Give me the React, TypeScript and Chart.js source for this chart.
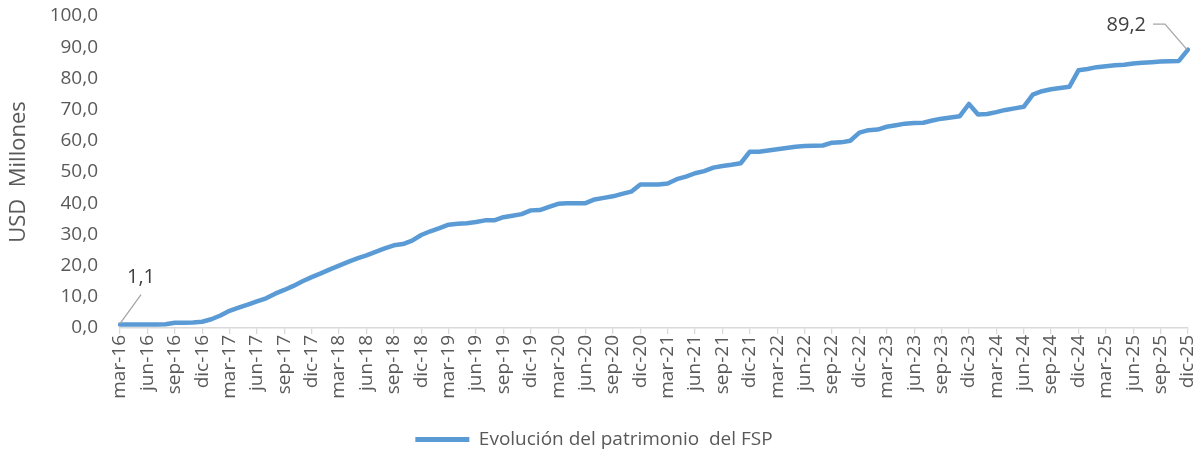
import React, { useEffect, useRef } from "react";
import { Chart, registerables } from "chart.js";

Chart.register(...registerables);

const monthNames = ["ene", "feb", "mar", "abr", "may", "jun", "jul", "ago", "sep", "oct", "nov", "dic"];
const startYear = 2016;
const startMonth = 2; // mar
const endYear = 2025;
const endMonth = 11; // dic

const seriesName = "Evolución del patrimonio  del FSP";
const yTitle = "USD  Millones";

// Monthly values (USD millones), mar-16 .. dic-25
const patrimonio = [
  1.1, 1.1, 1.1, 1.1, 1.1, 1.2, 1.7, 1.7, 1.8, 2.0,
  2.8, 4.0, 5.5, 6.5, 7.5, 8.5, 9.5, 11.0, 12.2, 13.5, 15.0, 16.3,
  17.5, 18.8, 20.0, 21.2, 22.3, 23.3, 24.4, 25.5, 26.5, 26.9, 28.0, 29.8,
  31.0, 32.0, 33.1, 33.4, 33.6, 34.0, 34.5, 34.5, 35.5, 36.0, 36.5, 37.7,
  37.8, 38.8, 39.8, 40.0, 40.0, 40.0, 41.2, 41.7, 42.2, 43.0, 43.7, 46.0,
  46.0, 46.0, 46.3, 47.7, 48.5, 49.6, 50.3, 51.4, 51.9, 52.3, 52.8, 56.5,
  56.5, 56.9, 57.3, 57.7, 58.1, 58.3, 58.4, 58.5, 59.4, 59.5, 60.0, 62.6,
  63.4, 63.6, 64.5, 65.0, 65.5, 65.7, 65.8, 66.5, 67.1, 67.5, 67.9, 71.8,
  68.4, 68.6, 69.2, 69.9, 70.4, 70.9, 74.8, 75.9, 76.5, 76.9, 77.3, 82.6,
  83.0, 83.6, 83.9, 84.2, 84.4, 84.8, 85.0, 85.2, 85.4, 85.5, 85.6, 89.2,
];

const yTicks = [0, 10, 20, 30, 40, 50, 60, 70, 80, 90, 100];

function buildMonthLabels(): string[] {
  const out: string[] = [];
  let y = startYear;
  let m = startMonth;
  while (y < endYear || (y === endYear && m <= endMonth)) {
    out.push(`${monthNames[m]}-${String(y).slice(2)}`);
    m++;
    if (m > 11) {
      m = 0;
      y++;
    }
  }
  return out;
}

const monthLabels = buildMonthLabels();

const fmt = (v: number) => v.toFixed(1).replace(".", ",");

const FONT = "'Open Sans', 'Liberation Sans', sans-serif";
const TEXT = "#595959";

const endLabelsPlugin = {
  id: "endLabels",
  afterDatasetsDraw(chart: any) {
    const meta = chart.getDatasetMeta(0);
    const pts = meta.data;
    if (!pts || !pts.length) return;
    const ctx = chart.ctx;
    const first = pts[0];
    const last = pts[pts.length - 1];
    const data = chart.data.datasets[0].data as number[];
    ctx.save();
    ctx.strokeStyle = "#a6a6a6";
    ctx.lineWidth = 1.3;
    ctx.beginPath();
    ctx.moveTo(first.x, first.y - 1);
    ctx.lineTo(first.x + 21, first.y - 30);
    ctx.stroke();
    ctx.beginPath();
    ctx.moveTo(last.x - 1, last.y);
    ctx.lineTo(last.x - 23, last.y - 25.5);
    ctx.lineTo(last.x - 35, last.y - 25.5);
    ctx.stroke();

    ctx.fillStyle = "#404040";
    ctx.font = `20px ${FONT}`;
    ctx.textBaseline = "middle";
    ctx.textAlign = "center";
    ctx.fillText(fmt(data[0]), first.x + 21, first.y - 47);
    ctx.textAlign = "right";
    ctx.fillText(fmt(data[data.length - 1]), last.x - 42, last.y - 24);
    ctx.restore();
  },
};

export default function App() {
  const canvasRef = useRef<HTMLCanvasElement | null>(null);

  useEffect(() => {
    if (!canvasRef.current) return;
    const chart = new Chart(canvasRef.current, {
      type: "line",
      data: {
        labels: monthLabels,
        datasets: [
          {
            label: seriesName,
            data: patrimonio,
            borderColor: "#5B9BD5",
            backgroundColor: "#5B9BD5",
            borderWidth: 4.5,
            pointRadius: 0,
            tension: 0,
            borderJoinStyle: "round",
            borderCapStyle: "round",
          },
        ],
      },
      options: {
        animation: false,
        responsive: true,
        maintainAspectRatio: false,
        layout: { padding: { top: 16, right: 12, bottom: 0, left: 0 } },
        plugins: {
          tooltip: { enabled: false },
          legend: {
            position: "bottom",
            labels: {
              color: TEXT,
              font: { family: FONT, size: 19 },
              boxWidth: 54,
              boxHeight: 5,
              padding: 10,
              generateLabels: () => [
                {
                  text: seriesName,
                  fillStyle: "#5B9BD5",
                  strokeStyle: "#5B9BD5",
                  lineWidth: 0,
                  hidden: false,
                  datasetIndex: 0,
                  fontColor: TEXT,
                },
              ],
            },
          },
        },
        scales: {
          x: {
            type: "category",
            afterFit: (scale: any) => {
              scale.height = 92;
              scale.paddingLeft = 0;
              scale.paddingRight = 0;
            },
            grid: {
              drawOnChartArea: false,
              drawTicks: true,
              tickLength: 6,
              lineWidth: 1.3,
              color: (c: any) => (c.index % 3 === 0 ? "#d9d9d9" : "rgba(0,0,0,0)"),
            },
            border: { display: true, color: "#d9d9d9", width: 1.5 },
            ticks: {
              autoSkip: false,
              maxRotation: 90,
              minRotation: 90,
              padding: 1,
              color: TEXT,
              font: { family: FONT, size: 19 },
              callback: (_v: any, i: number) => (i % 3 === 0 ? monthLabels[i] : ""),
            },
          },
          y: {
            min: yTicks[0],
            max: yTicks[yTicks.length - 1],
            afterFit: (scale: any) => {
              scale.width = 120;
              scale.paddingTop = 0;
              scale.paddingBottom = 0;
            },
            afterBuildTicks: (scale: any) => {
              scale.ticks = yTicks.map((v) => ({ value: v }));
            },
            grid: { display: false, drawTicks: false },
            border: { display: false },
            ticks: {
              padding: 22,
              color: TEXT,
              font: { family: FONT, size: 19 },
              callback: (v: any) => fmt(Number(v)),
            },
            title: {
              display: true,
              text: yTitle,
              color: TEXT,
              font: { family: FONT, size: 22 },
              padding: { top: 6, bottom: 0 },
            },
          },
        },
      },
      plugins: [endLabelsPlugin],
    });
    return () => chart.destroy();
  }, []);

  return (
    <div style={{ position: "absolute", left: 0, top: 0, width: 1200, height: 459, background: "#fff" }}>
      <canvas ref={canvasRef} />
    </div>
  );
}
